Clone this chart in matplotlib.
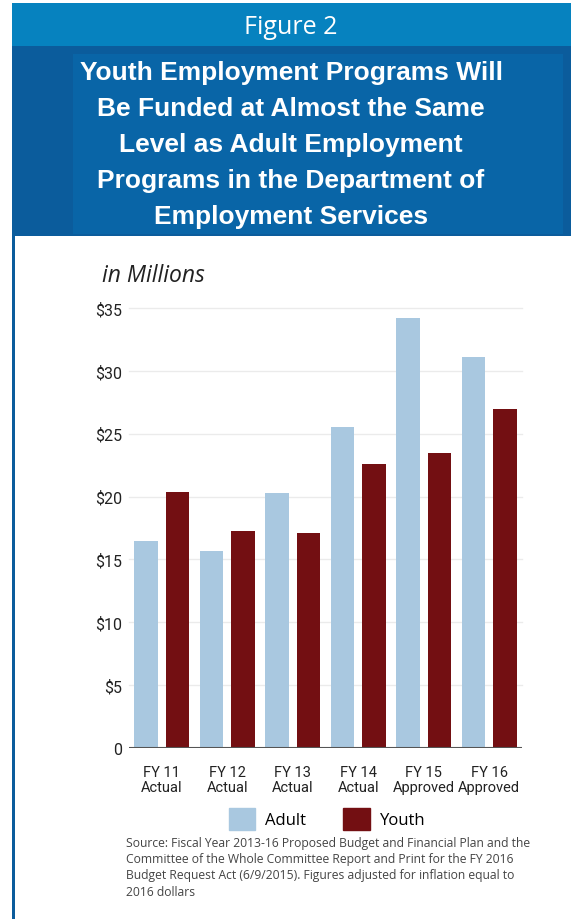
import numpy as np
import matplotlib.pyplot as plt
from matplotlib.patches import Rectangle, Patch

# DOES budget, in millions of 2016 dollars
years = ["FY 11", "FY 12", "FY 13", "FY 14", "FY 15", "FY 16"]
status = ["Actual", "Actual", "Actual", "Actual", "Approved", "Approved"]
adult = [16.5, 15.7, 20.3, 25.5, 34.2, 31.1]
youth = [20.4, 17.3, 17.1, 22.6, 23.5, 27.0]
yticks = [0, 5, 10, 15, 20, 25, 30, 35]
ylabels = ["0", "$5", "$10", "$15", "$20", "$25", "$30", "$35"]

W, H = 571, 920
ADULT_C = "#a9c8e0"
YOUTH_C = "#730f12"
narrow = ["Roboto", "DejaVu Sans"]

fig = plt.figure(figsize=(W / 100, H / 100), dpi=100)


def box(x0, y0, x1, y1, color):
    # pixel box, y measured from the top
    fig.patches.append(Rectangle((x0 / W, 1 - y1 / H), (x1 - x0) / W, (y1 - y0) / H,
                                 transform=fig.transFigure, color=color, lw=0, zorder=0))


# header bands and left rule
box(12, 4, W, 47, "#0682bf")
box(12, 47, W, 237, "#0b5c9c")
box(73, 55, 563, 235, "#0965a7")
box(12, 237, 15, H, "#0b5c9c")

fig.text(291 / W, 1 - 28 / H, "Figure 2", color="white", fontsize=18,
         family="Open Sans", ha="center", va="center")
title = ["Youth Employment Programs Will", "Be Funded at Almost the Same",
         "Level as Adult Employment", "Programs in the Department of",
         "Employment Services"]
for i, line in enumerate(title):
    fig.text(291 / W, 1 - (73 + 36 * i) / H, line, color="white", fontsize=19,
             family="Liberation Sans", weight="bold", ha="center", va="center")

fig.text(102 / W, 1 - 282 / H, "in Millions", style="italic", fontsize=16.5,
         family="Open Sans", color="#222222", ha="left", va="baseline")

ax = fig.add_axes([129 / W, 1 - 749 / H, 393 / W, 440 / H])
x = np.arange(len(years))
ax.bar(x - 0.24, adult, width=0.36, color=ADULT_C, zorder=2)
ax.bar(x + 0.24, youth, width=0.36, color=YOUTH_C, zorder=2)
ax.set_xlim(-0.5, 5.5)
ax.set_ylim(0, 35)
for v in yticks[1:]:
    ax.axhline(v, color="#ebebeb", lw=1, zorder=1, clip_on=False)
ax.axhline(0, color="#555555", lw=1.5, zorder=3)
for s in ax.spines.values():
    s.set_visible(False)
ax.set_yticks(yticks)
ax.set_yticklabels(ylabels, family=narrow, fontsize=11.5, color="#222222")
ax.set_xticks(x)
ax.set_xticklabels([f"{a}\n{b}" for a, b in zip(years, status)],
                   family=narrow, fontsize=10.5, color="#222222", linespacing=1.15)
ax.tick_params(length=0)
ax.tick_params(axis="y", pad=5)
ax.tick_params(axis="x", pad=12)

handles = [Patch(color=ADULT_C), Patch(color=YOUTH_C)]
fig.legend(handles, ["Adult", "Youth"], ncol=2, loc="center",
           bbox_to_anchor=(327 / W, 1 - 820 / H), frameon=False,
           prop={"family": "Open Sans", "size": 12},
           handlelength=1.6, handleheight=1.6, handletextpad=0.6,
           columnspacing=2.2)

source = ("Source: Fiscal Year 2013-16 Proposed Budget and Financial Plan and the\n"
          "Committee of the Whole Committee Report and Print for the FY 2016\n"
          "Budget Request Act (6/9/2015). Figures adjusted for inflation equal to\n"
          "2016 dollars")
fig.text(126 / W, 1 - 837 / H, source, fontsize=8.7, family="Open Sans",
         color="#444444", ha="left", va="top", linespacing=1.32)

fig.savefig("out.png", dpi=100, facecolor="white")
